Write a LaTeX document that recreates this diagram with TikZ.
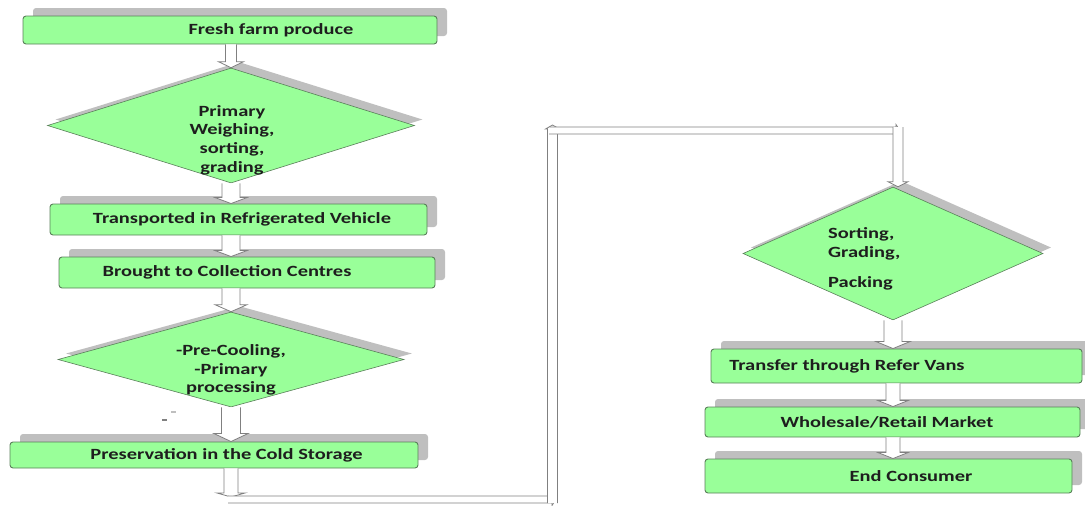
\documentclass[tikz,border=0pt]{standalone}
\usepackage{fontspec}
\setmainfont{Carlito}[FakeStretch=1.31]
\usetikzlibrary{shapes.geometric,shadows,calc}
\definecolor{boxfill}{HTML}{99FF99}
\definecolor{boxline}{HTML}{5A7F5A}
\definecolor{shade}{HTML}{BFBFBF}
\definecolor{arrline}{HTML}{808080}
\definecolor{txt}{HTML}{1E1E1E}
\newcommand\txtfont{\fontsize{15.6}{18.7}\selectfont\bfseries\color{txt}}
\newcommand\blockdown[5]{%
  \draw[blockarrow] let \p1=(#1), \p2=(#2) in
    (\x1-#3,\y1) -- (\x1-#3,\y2+#5) -- (\x1-#4,\y2+#5) -- (\x1,\y2) --
    (\x1+#4,\y2+#5) -- (\x1+#3,\y2+#5) -- (\x1+#3,\y1);}
\newcommand\blockup[5]{%
  \draw[blockarrow] let \p1=(#1), \p2=(#2) in
    (\x1-#3,\y1) -- (\x1-#3,\y2-#5) -- (\x1-#4,\y2-#5) -- (\x1,\y2) --
    (\x1+#4,\y2-#5) -- (\x1+#3,\y2-#5) -- (\x1+#3,\y1);}
\newcommand\blockright[5]{%
  \draw[blockarrow] let \p1=(#1), \p2=(#2) in
    (\x1,\y1+#3) -- (\x2-#5,\y1+#3) -- (\x2-#5,\y1+#4) -- (\x2,\y1) --
    (\x2-#5,\y1-#4) -- (\x2-#5,\y1-#3) -- (\x1,\y1-#3);}
\begin{document}
\begin{tikzpicture}[x=1pt,y=-1pt,
  box/.style={draw=boxline, line width=0.9pt, fill=boxfill, rounded corners=3pt,
    inner sep=0pt, font=\txtfont,
    drop shadow={shadow xshift=10pt, shadow yshift=8pt, opacity=1, fill=shade}},
  diam/.style={diamond, draw=boxline, line width=0.6pt, fill=boxfill, inner sep=0pt,
    drop shadow={shadow xshift=8pt, shadow yshift=6pt, opacity=1, fill=shade}},
  dtext/.style={font=\txtfont, align=center, inner sep=0pt},
  blockarrow/.style={draw=arrline, line width=0.8pt, fill=white},
  speck/.style={draw=none, fill=#1, inner sep=0pt, minimum width=5pt, minimum height=1.6pt}]
\useasboundingbox (0,0) rectangle (1085,506);
\clip (0,0) rectangle (1085,506);

% left column
\node[box, minimum width=414pt, minimum height=28pt] (b1) at (230,30) {\hspace*{82pt}Fresh farm produce};
\node[diam, minimum width=367pt, minimum height=115pt] (d1) at (231,125.5) {};
\node[dtext] (t1) at (232,140) {Primary\\Weighing,\\sorting,\\grading};
\node[box, minimum width=377pt, minimum height=31pt] (b2) at (238.5,219.5) {\hspace*{7pt}Transported in Refrigerated Vehicle};
\node[box, minimum width=376pt, minimum height=31pt] (b3) at (247,272.5) {Brought to Collection Centres\hspace*{40pt}};
\node[diam, minimum width=346pt, minimum height=95pt] (d2) at (231,359.5) {};
\node[dtext] (t2) at (231,370) {-Pre-Cooling,\\-Primary\\processing};
\node[box, minimum width=408pt, minimum height=26pt] (b4) at (214,455) {\hspace*{25pt}Preservation in the Cold Storage};
\node[speck=arrline] (dash1) at (164,420) {};
\node[speck=shade] (dash2) at (173,412) {};

% right column
\node[diam, minimum width=300pt, minimum height=133pt] (d3) at (893,253.5) {};
\node[dtext, align=left, anchor=west] (t3) at (828,259) {Sorting,\\Grading,\\[12pt]Packing};
\node[box, minimum width=371pt, minimum height=34pt] (b5) at (896.5,366) {Transfer through Refer Vans\hspace*{99pt}};
\node[box, minimum width=375pt, minimum height=30pt] (b6) at (892.5,422) {Wholesale/Retail Market\hspace*{11pt}};
\node[box, minimum width=367pt, minimum height=34pt] (b7) at (888.5,476) {\hspace*{45pt}End Consumer};

% block arrows, left column
\blockdown{b1.south -| d1.north}{d1.north}{5.5pt}{12.5pt}{6pt}
\blockdown{d1.south}{b2.north}{9pt}{16pt}{6pt}
\blockdown{b2.south -| d1.south}{b3.north}{9pt}{16pt}{6pt}
\blockdown{b3.south -| d2.north}{d2.north}{9pt}{16pt}{7pt}
\blockdown{d2.south}{b4.north}{9.5pt}{17pt}{8pt}

% elbow connector
\coordinate (e1) at (232,497);
\coordinate (e2) at (228,499.5);
\coordinate (e3) at (556,499.5);
\coordinate (e4) at (552.5,503);
\coordinate (e5) at (552.5,125);
\coordinate (e6) at (549,130.5);
\coordinate (e7) at (900,130.5);
\coordinate (e8) at (898,127);
\blockdown{b4.south -| d2.south}{e1}{7pt}{14pt}{4pt}
\blockright{e2}{e3}{3.5pt}{6pt}{4pt}
\blockup{e4}{e5}{5pt}{7pt}{4pt}
\blockright{e6}{e7}{3.5pt}{6pt}{4pt}
\blockdown{e8}{d3.north}{5pt}{10pt}{5pt}

% block arrows, right column
\blockdown{d3.south}{b5.north}{9pt}{17pt}{7pt}
\blockdown{b5.south -| d3.south}{b6.north}{7pt}{15pt}{6pt}
\blockdown{b6.south -| d3.south}{b7.north}{7pt}{15pt}{6pt}
\end{tikzpicture}
\end{document}
